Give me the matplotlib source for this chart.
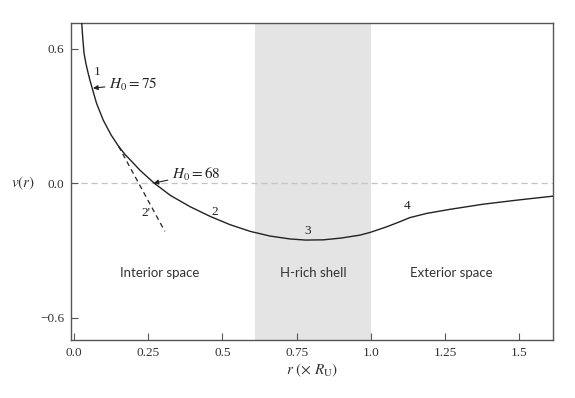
import matplotlib
matplotlib.use("Agg")
import matplotlib.pyplot as plt

plt.rcParams['mathtext.fontset'] = 'stix'

# curve
r_vals = [0.026, 0.030, 0.034, 0.040, 0.046, 0.053, 0.060, 0.076, 0.099, 0.125,
          0.150, 0.172, 0.198, 0.222, 0.270, 0.325, 0.391, 0.458, 0.525, 0.593,
          0.660, 0.727, 0.780, 0.840, 0.900, 0.963, 0.997, 1.053, 1.098, 1.131,
          1.188, 1.266, 1.378, 1.491, 1.614]
v_vals = [0.716, 0.640, 0.579, 0.535, 0.500, 0.463, 0.430, 0.356, 0.280, 0.215,
          0.165, 0.128, 0.092, 0.058, 0.000, -0.055, -0.105, -0.148, -0.185, -0.215,
          -0.236, -0.249, -0.254, -0.253, -0.245, -0.232, -0.220, -0.195, -0.172, -0.154,
          -0.135, -0.117, -0.094, -0.076, -0.058]
# branch 2'
tan_r = [0.150, 0.306]
tan_v = [0.165, -0.215]

shell = (0.61, 1.0)
xticks = [0.0, 0.25, 0.5, 0.75, 1.0, 1.25, 1.5]
xticklabels = ["0.0", "0.25", "0.5", "0.75", "1.0", "1.25", "1.5"]
yticks = [-0.6, 0.0, 0.6]
yticklabels = ["\u22120.6", "0.0", "0.6"]
regions = ["Interior space", "H-rich shell", "Exterior space"]
region_x = [0.29, 0.805, 1.27]

fig = plt.figure(figsize=(5.75, 3.98), dpi=100)
ax = fig.add_axes([0.1235, 0.1457, 0.838, 0.7973])
ax.set_xlim(-0.01, 1.613)
ax.set_ylim(-0.70, 0.716)

ax.axvspan(shell[0], shell[1], color='#e4e4e4', lw=0, zorder=0)
ax.axhline(0.0, color='#c4c4c4', lw=0.9, ls=(0, (5, 3)), zorder=1)
ax.plot(r_vals, v_vals, color='#222222', lw=1.0, zorder=3,
        solid_joinstyle='round')
ax.plot(tan_r, tan_v, color='#222222', lw=0.9, ls=(0, (4, 3)), zorder=3)

for s in ax.spines.values():
    s.set_color('#555555')
    s.set_linewidth(1.0)

ax.set_xticks(xticks)
ax.set_xticklabels(xticklabels)
ax.set_yticks(yticks)
ax.set_yticklabels(yticklabels)
ax.tick_params(direction='in', length=5, width=0.8, color='#555555',
               labelsize=9.5, pad=5)
for lab in ax.get_xticklabels() + ax.get_yticklabels():
    lab.set_fontfamily('Liberation Serif')
    lab.set_color('#333333')

ax.set_xlabel(r'$r\ (\times\ R_{\mathrm{U}})$', fontsize=11, color='#333333', labelpad=2)
ax.text(-0.075, 0.0, r'$v(r)$', fontsize=11, color='#333333', ha='right', va='center',
        transform=ax.get_yaxis_transform())

# annotations
ax.annotate(r'$H_0 = 75$', xy=(0.064, 0.424), xytext=(0.118, 0.442),
            fontsize=11, color='#222222', va='center',
            arrowprops=dict(arrowstyle='-|>', color='#222222', lw=0.8,
                            mutation_scale=7, shrinkA=1, shrinkB=0))
ax.annotate(r'$H_0 = 68$', xy=(0.268, 0.0), xytext=(0.33, 0.04),
            fontsize=11, color='#222222', va='center',
            arrowprops=dict(arrowstyle='-|>', color='#222222', lw=0.8,
                            mutation_scale=7, shrinkA=1, shrinkB=0))
num_labels = ["1", "2'", "2", "3", "4"]
num_x = [0.077, 0.242, 0.475, 0.788, 1.121]
num_y = [0.496, -0.134, -0.13, -0.214, -0.103]
for t, x, y in zip(num_labels, num_x, num_y):
    ax.text(x, y, t, fontsize=9.5, family='Liberation Serif', color='#222222',
            ha='center', va='center')

for t, x in zip(regions, region_x):
    ax.text(x, -0.402, t, fontsize=9.5, family='Lato', color='#333333',
            ha='center', va='center')

fig.savefig('out.png', dpi=100)
